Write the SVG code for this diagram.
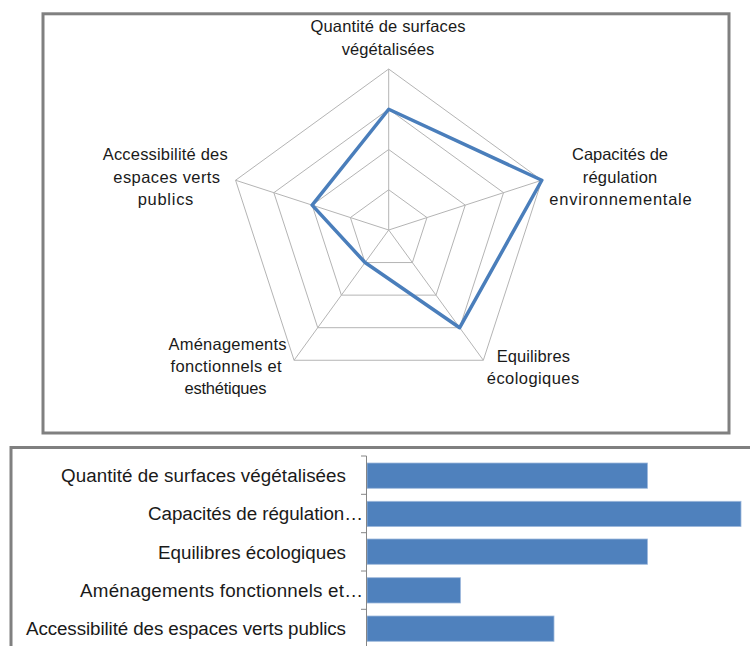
<svg xmlns="http://www.w3.org/2000/svg" width="750" height="646" viewBox="0 0 750 646">
<style>
  .frame { fill: #ffffff; stroke: #808080; stroke-width: 3; }
  .grid { fill: none; stroke: #b4b4b4; stroke-width: 1; }
  .series { fill: none; stroke: #4a7ebb; stroke-width: 3.5; stroke-linejoin: round; }
  .lbl { font-family: "Liberation Sans", Arial, sans-serif; font-size: 16.5px; fill: #1a1a1a; text-anchor: middle; }
  .blbl { font-family: "Liberation Sans", Arial, sans-serif; font-size: 18.8px; fill: #1a1a1a; text-anchor: end; }
  .bar { fill: #4f81bd; stroke: #9fb9dc; stroke-width: 0.8; }
  .axis { fill: none; stroke: #868686; stroke-width: 1; }
</style>
<rect width="750" height="646" fill="#ffffff"/>

<g id="radar-chart">
  <rect id="radar-frame" class="frame" x="43" y="13.8" width="686" height="419.2"/>
  <g id="radar-grid">
    <polygon class="grid" points="388.7,69 541.82,180.25 483.33,360.25 294.07,360.25 235.58,180.25"/>
    <polygon class="grid" points="388.7,109.25 503.54,192.69 459.68,327.69 317.72,327.69 273.86,192.69"/>
    <polygon class="grid" points="388.7,149.5 465.26,205.12 436.02,295.13 341.38,295.13 312.14,205.12"/>
    <polygon class="grid" points="388.7,189.75 426.98,217.56 412.36,262.56 365.04,262.56 350.42,217.56"/>
    <line class="grid" x1="388.7" y1="230" x2="388.7" y2="69"/>
    <line class="grid" x1="388.7" y1="230" x2="541.82" y2="180.25"/>
    <line class="grid" x1="388.7" y1="230" x2="483.33" y2="360.25"/>
    <line class="grid" x1="388.7" y1="230" x2="294.07" y2="360.25"/>
    <line class="grid" x1="388.7" y1="230" x2="235.58" y2="180.25"/>
  </g>
  <g id="radar-series">
    <polygon class="series" points="388.7,109.25 541.82,180.25 459.68,327.69 365.04,262.56 312.14,205.12"/>
  </g>
  <g id="radar-label-quantite">
    <text class="lbl" x="388" y="32" textLength="155">Quantité de surfaces</text>
    <text class="lbl" x="388" y="54.5" textLength="92.6">végétalisées</text>
  </g>
  <g id="radar-label-capacites">
    <text class="lbl" x="620" y="160" textLength="96">Capacités de</text>
    <text class="lbl" x="620" y="182.5" textLength="74.6">régulation</text>
    <text class="lbl" x="620.5" y="205" textLength="142.4">environnementale</text>
  </g>
  <g id="radar-label-equilibres">
    <text class="lbl" x="533.3" y="362" textLength="73.3">Equilibres</text>
    <text class="lbl" x="533" y="384" textLength="92.3">écologiques</text>
  </g>
  <g id="radar-label-amenagements">
    <text class="lbl" x="227.5" y="350" textLength="118">Aménagements</text>
    <text class="lbl" x="226" y="372" textLength="111">fonctionnels et</text>
    <text class="lbl" x="225.5" y="394" textLength="82">esthétiques</text>
  </g>
  <g id="radar-label-accessibilite">
    <text class="lbl" x="165.2" y="160" textLength="125">Accessibilité des</text>
    <text class="lbl" x="166.7" y="182.5" textLength="106.7">espaces verts</text>
    <text class="lbl" x="165.5" y="205" textLength="55.7">publics</text>
  </g>
</g>

<g id="bar-chart">
  <rect id="bar-frame" class="frame" x="11" y="447.5" width="800" height="300"/>
  <g id="bars">
    <rect id="bar-quantite" class="bar" x="367" y="463" width="280.5" height="25.3"/>
    <rect id="bar-capacites" class="bar" x="367" y="501.3" width="374" height="25.3"/>
    <rect id="bar-equilibres" class="bar" x="367" y="539" width="280.5" height="25.3"/>
    <rect id="bar-amenagements" class="bar" x="367" y="577.7" width="93.5" height="25.3"/>
    <rect id="bar-accessibilite" class="bar" x="367" y="616" width="187" height="25.3"/>
  </g>
  <g id="bar-axis">
    <line class="axis" x1="366.5" y1="456" x2="366.5" y2="646"/>
    <line class="axis" x1="361" y1="456" x2="366.5" y2="456"/>
    <line class="axis" x1="361" y1="494.3" x2="366.5" y2="494.3"/>
    <line class="axis" x1="361" y1="532.7" x2="366.5" y2="532.7"/>
    <line class="axis" x1="361" y1="571" x2="366.5" y2="571"/>
    <line class="axis" x1="361" y1="609.3" x2="366.5" y2="609.3"/>
  </g>
  <g id="bar-labels">
    <text class="blbl" x="346" y="482" textLength="285">Quantité de surfaces végétalisées</text>
    <text class="blbl" x="363" y="520.3" textLength="215">Capacités de régulation…</text>
    <text class="blbl" x="346" y="558.6" textLength="188">Equilibres écologiques</text>
    <text class="blbl" x="363" y="597" textLength="283">Aménagements fonctionnels et…</text>
    <text class="blbl" x="346" y="635.3" textLength="320">Accessibilité des espaces verts publics</text>
  </g>
</g>
</svg>
